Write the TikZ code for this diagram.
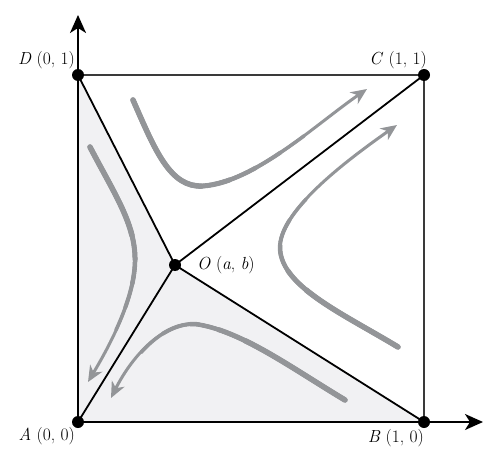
\documentclass[tikz,border=0pt]{standalone}
\usepackage{fontspec}
\setmainfont{Latin Modern Roman}
\usetikzlibrary{arrows.meta}
\definecolor{shadec}{HTML}{F1F1F3}
\definecolor{flowc}{HTML}{939598}
\definecolor{framec}{HTML}{3A3A3A}
\begin{document}
\begin{tikzpicture}[x=1pt,y=-1pt,
  dot/.style={circle,fill=black,inner sep=0pt,minimum size=12pt},
  lab/.style={inner sep=0pt,font=\fontsize{17.5}{21}\selectfont},
  axis/.style={line width=2pt,-{Stealth[length=18pt,width=16pt,inset=5pt]}},
  frame/.style={line width=2.4pt,draw=framec},
  ray/.style={line width=1.8pt},
  flow/.style={draw=flowc,line cap=round,line join=round},
  flowtip/.style={flow,line width=3pt,-{Stealth[length=16pt,width=14pt,inset=5pt]}}
]
\useasboundingbox (0,0) rectangle (500,465);
\coordinate (A) at (78,422);
\coordinate (B) at (424,422);
\coordinate (C) at (424,75);
\coordinate (D) at (78,75);
\coordinate (O) at (175,265);
\coordinate (ytip) at (78,15);
\coordinate (xtip) at (483,422);
% shaded region
\fill[shadec] (A) -- (D) -- (O) -- (B) -- cycle;
% frame
\draw[frame] (D) -- (C) -- (B);
% rays from O
\draw[ray] (O) -- (A);
\draw[ray] (O) -- (B);
\draw[ray] (O) -- (C);
\draw[ray] (O) -- (D);
% axes
\draw[axis] (A) -- (ytip);
\draw[axis] (A) -- (xtip);
% flow curves (tapered: thick at the start, thin at the arrow)
\def\curveT{(133,100) .. controls (155,150) and (170,188) .. (203,186) .. controls (255,182) and (315,125) .. (367,89)}
\def\curveR{(398,347) .. controls (340,312) and (278,285) .. (280,245) .. controls (283,210) and (340,165) .. (397,125)}
\def\curveL{(90,147) .. controls (115,195) and (136,225) .. (135,262) .. controls (134,300) and (110,345) .. (88,382)}
\def\curveB{(345,400) .. controls (290,367) and (240,330) .. (195,324) .. controls (160,323) and (130,360) .. (111,398)}
\foreach \c/\len in {\curveT/290,\curveR/270,\curveL/245,\curveB/290}{
  \draw[flowtip] \c;
  \foreach \w/\f in {3.5/0.80,4.0/0.70,4.5/0.60,5.0/0.50,5.5/0.40}{
    \pgfmathsetmacro\on{\len*\f}
    \draw[flow,line width=\w pt,dash pattern=on \on pt off 3000pt] \c;
  }
}
% dots
\node[dot] (nA) at (A) {};
\node[dot] (nB) at (B) {};
\node[dot] (nC) at (C) {};
\node[dot] (nD) at (D) {};
\node[dot] (nO) at (O) {};
% labels
\node[lab,anchor=east] (lD) at (75,60) {\textit{D} (0, 1)};
\node[lab,anchor=east] (lC) at (427,60) {\textit{C} (1, 1)};
\node[lab,anchor=east] (lA) at (75,436) {\textit{A} (0, 0)};
\node[lab,anchor=east] (lB) at (424,438) {\textit{B} (1, 0)};
\node[lab,anchor=west] (lO) at (197,265) {\textit{O} (\textit{a}, \textit{b})};
\end{tikzpicture}
\end{document}
